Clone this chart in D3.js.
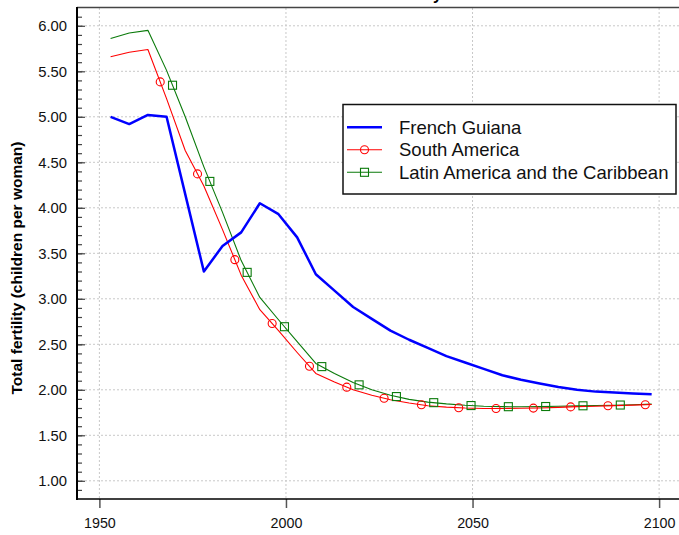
<!DOCTYPE html>
<html>
<head>
<meta charset="utf-8">
<script src="https://cdn.jsdelivr.net/npm/d3@7"></script>
<style>
  html, body { margin: 0; padding: 0; background: #fff; }
  svg { display: block; font-family: "Liberation Sans", Arial, sans-serif; }
</style>
</head>
<body>
<svg id="chart" width="679" height="535"></svg>
<script>
// ---- data ----
const years = [1953, 1958, 1963, 1968, 1973, 1978, 1983, 1988, 1993, 1998,
               2003, 2008, 2013, 2018, 2023, 2028, 2033, 2038, 2043, 2048,
               2053, 2058, 2063, 2068, 2073, 2078, 2083, 2088, 2093, 2098];
const frenchGuiana = [5.00, 4.92, 5.02, 5.00, 4.15, 3.30, 3.58, 3.73, 4.05, 3.93,
                      3.675, 3.27, 3.09, 2.91, 2.78, 2.65, 2.55, 2.46, 2.37, 2.30,
                      2.23, 2.16, 2.11, 2.07, 2.03, 2.00, 1.98, 1.97, 1.96, 1.95];
const southAmerica = [5.66, 5.71, 5.74, 5.20, 4.63, 4.24, 3.76, 3.26, 2.88, 2.65,
                      2.41, 2.18, 2.085, 2.00, 1.94, 1.89, 1.855, 1.825, 1.81, 1.80,
                      1.795, 1.795, 1.797, 1.80, 1.807, 1.815, 1.82, 1.826, 1.832, 1.838];
const latinAmerica = [5.86, 5.92, 5.95, 5.51, 5.00, 4.45, 3.95, 3.42, 3.015, 2.77,
                      2.53, 2.29, 2.18, 2.08, 2.00, 1.94, 1.895, 1.865, 1.845, 1.83,
                      1.82, 1.815, 1.813, 1.815, 1.819, 1.823, 1.827, 1.831, 1.836, 1.843];
const seriesNames = ["French Guiana", "South America", "Latin America and the Caribbean"];
const xTickValues = [1950, 2000, 2050, 2100];
const yTickValues = [1.00, 1.50, 2.00, 2.50, 3.00, 3.50, 4.00, 4.50, 5.00, 5.50, 6.00];
const titleText = "Total fertility";
const yLabel = "Total fertility (children per woman)";

// ---- layout ----
const svg = d3.select("#chart");
const x = d3.scaleLinear().domain([1944, 2106]).range([77, 681.5]);
const y = d3.scaleLinear().domain([0.8, 6.2]).range([499, 7.6]);

const series = [
  { name: seriesNames[0], values: frenchGuiana, color: "#0000ff", width: 2.5, marker: null },
  { name: seriesNames[1], values: southAmerica, color: "#ff0000", width: 1.1, marker: "circle", mStart: 1966.3, mStep: 10 },
  { name: seriesNames[2], values: latinAmerica, color: "#0a7a0a", width: 1.1, marker: "square", mStart: 1969.6, mStep: 10 }
];

// title (mostly clipped above the view)
svg.append("text").attr("x", 442).attr("y", -0.5).attr("text-anchor", "end")
  .attr("font-size", 16).attr("font-weight", "bold").text(titleText);

// grid
const gridColor = "#c8c8c8";
svg.append("g").selectAll("line").data(yTickValues).join("line")
  .attr("x1", 77).attr("x2", 679).attr("y1", d => y(d)).attr("y2", d => y(d))
  .attr("stroke", gridColor).attr("stroke-width", 1).attr("stroke-dasharray", "2,2");
svg.append("g").selectAll("line").data(xTickValues).join("line")
  .attr("x1", d => x(d)).attr("x2", d => x(d)).attr("y1", 8).attr("y2", 499)
  .attr("stroke", gridColor).attr("stroke-width", 1).attr("stroke-dasharray", "2,2");

// top border
svg.append("line").attr("x1", 77).attr("x2", 679).attr("y1", 7.5).attr("y2", 7.5)
  .attr("stroke", "#444").attr("stroke-width", 1.6);

// y axis (ticks inside)
const yAxis = d3.axisRight(y).tickValues(yTickValues).tickSize(8).tickFormat("");
const yMinor = d3.axisRight(y).tickValues(d3.range(9, 62).map(v => v / 10)).tickSize(5).tickFormat("");
const gyMinor = svg.append("g").attr("transform", "translate(77,0)").call(yMinor);
const gy = svg.append("g").attr("transform", "translate(77,0)").call(yAxis);
[gy, gyMinor].forEach(g => {
  g.select(".domain").remove();
  g.selectAll(".tick line").attr("stroke", "#444").attr("stroke-width", 1.2);
});
svg.append("g").selectAll("text").data(yTickValues).join("text")
  .attr("x", 67).attr("y", d => y(d)).attr("dy", "0.36em").attr("text-anchor", "end")
  .attr("font-size", 14.8).attr("fill", "#111").text(d => d3.format(".2f")(d));
svg.append("line").attr("x1", 77).attr("x2", 77).attr("y1", 7).attr("y2", 500)
  .attr("stroke", "#000").attr("stroke-width", 2);

// x axis (ticks outside)
const xAxis = d3.axisBottom(x).tickValues(xTickValues).tickSize(9).tickPadding(10).tickFormat(d3.format("d"));
const gx = svg.append("g").attr("transform", "translate(0,499)").call(xAxis);
gx.select(".domain").remove();
gx.selectAll(".tick line").attr("stroke", "#555").attr("stroke-width", 1.5);
gx.selectAll(".tick text").attr("font-size", 14.3).attr("fill", "#111")
  .attr("font-family", "'Liberation Sans', Arial, sans-serif");
svg.append("line").attr("x1", 76).attr("x2", 679).attr("y1", 499).attr("y2", 499)
  .attr("stroke", "#000").attr("stroke-width", 1.5);

// y label
svg.append("text").attr("transform", "translate(22,268) rotate(-90)")
  .attr("text-anchor", "middle").attr("font-size", 15.5).attr("font-weight", "bold")
  .text(yLabel);

// lines
const line = d3.line().x((d, i) => x(years[i])).y(d => y(d));
series.slice().reverse().forEach(s => {
  svg.append("path").datum(s.values).attr("d", line).attr("fill", "none")
    .attr("stroke", s.color).attr("stroke-width", s.width).attr("stroke-linejoin", "round");
});

// markers placed along each line
function drawMarker(g, type, cx, cy, color) {
  if (type === "circle") {
    g.append("circle").attr("cx", cx).attr("cy", cy).attr("r", 4)
      .attr("fill", "none").attr("stroke", color).attr("stroke-width", 1.1);
  } else if (type === "square") {
    g.append("rect").attr("x", cx - 4).attr("y", cy - 4).attr("width", 8).attr("height", 8)
      .attr("fill", "none").attr("stroke", color).attr("stroke-width", 1.1);
  }
}
const mg = svg.append("g");
series.forEach(s => {
  if (!s.marker) return;
  const interp = d3.scaleLinear().domain(years).range(s.values);
  for (let t = s.mStart; t <= years[years.length - 1]; t += s.mStep) {
    drawMarker(mg, s.marker, x(t), y(interp(t)), s.color);
  }
});

// legend
const lg = svg.append("g");
lg.append("rect").attr("x", 343).attr("y", 104.5).attr("width", 333).attr("height", 89.5)
  .attr("fill", "#fff").attr("stroke", "#111").attr("stroke-width", 1.5);
series.forEach((s, i) => {
  const cy = 127.3 + i * 22.5;
  lg.append("line").attr("x1", 347).attr("x2", 382).attr("y1", cy).attr("y2", cy)
    .attr("stroke", s.color).attr("stroke-width", s.width);
  drawMarker(lg, s.marker, 364.5, cy, s.color);
  lg.append("text").attr("x", 399).attr("y", cy).attr("dy", "0.35em")
    .attr("font-size", 18.5).attr("fill", "#111").text(s.name);
});
</script>
</body>
</html>
